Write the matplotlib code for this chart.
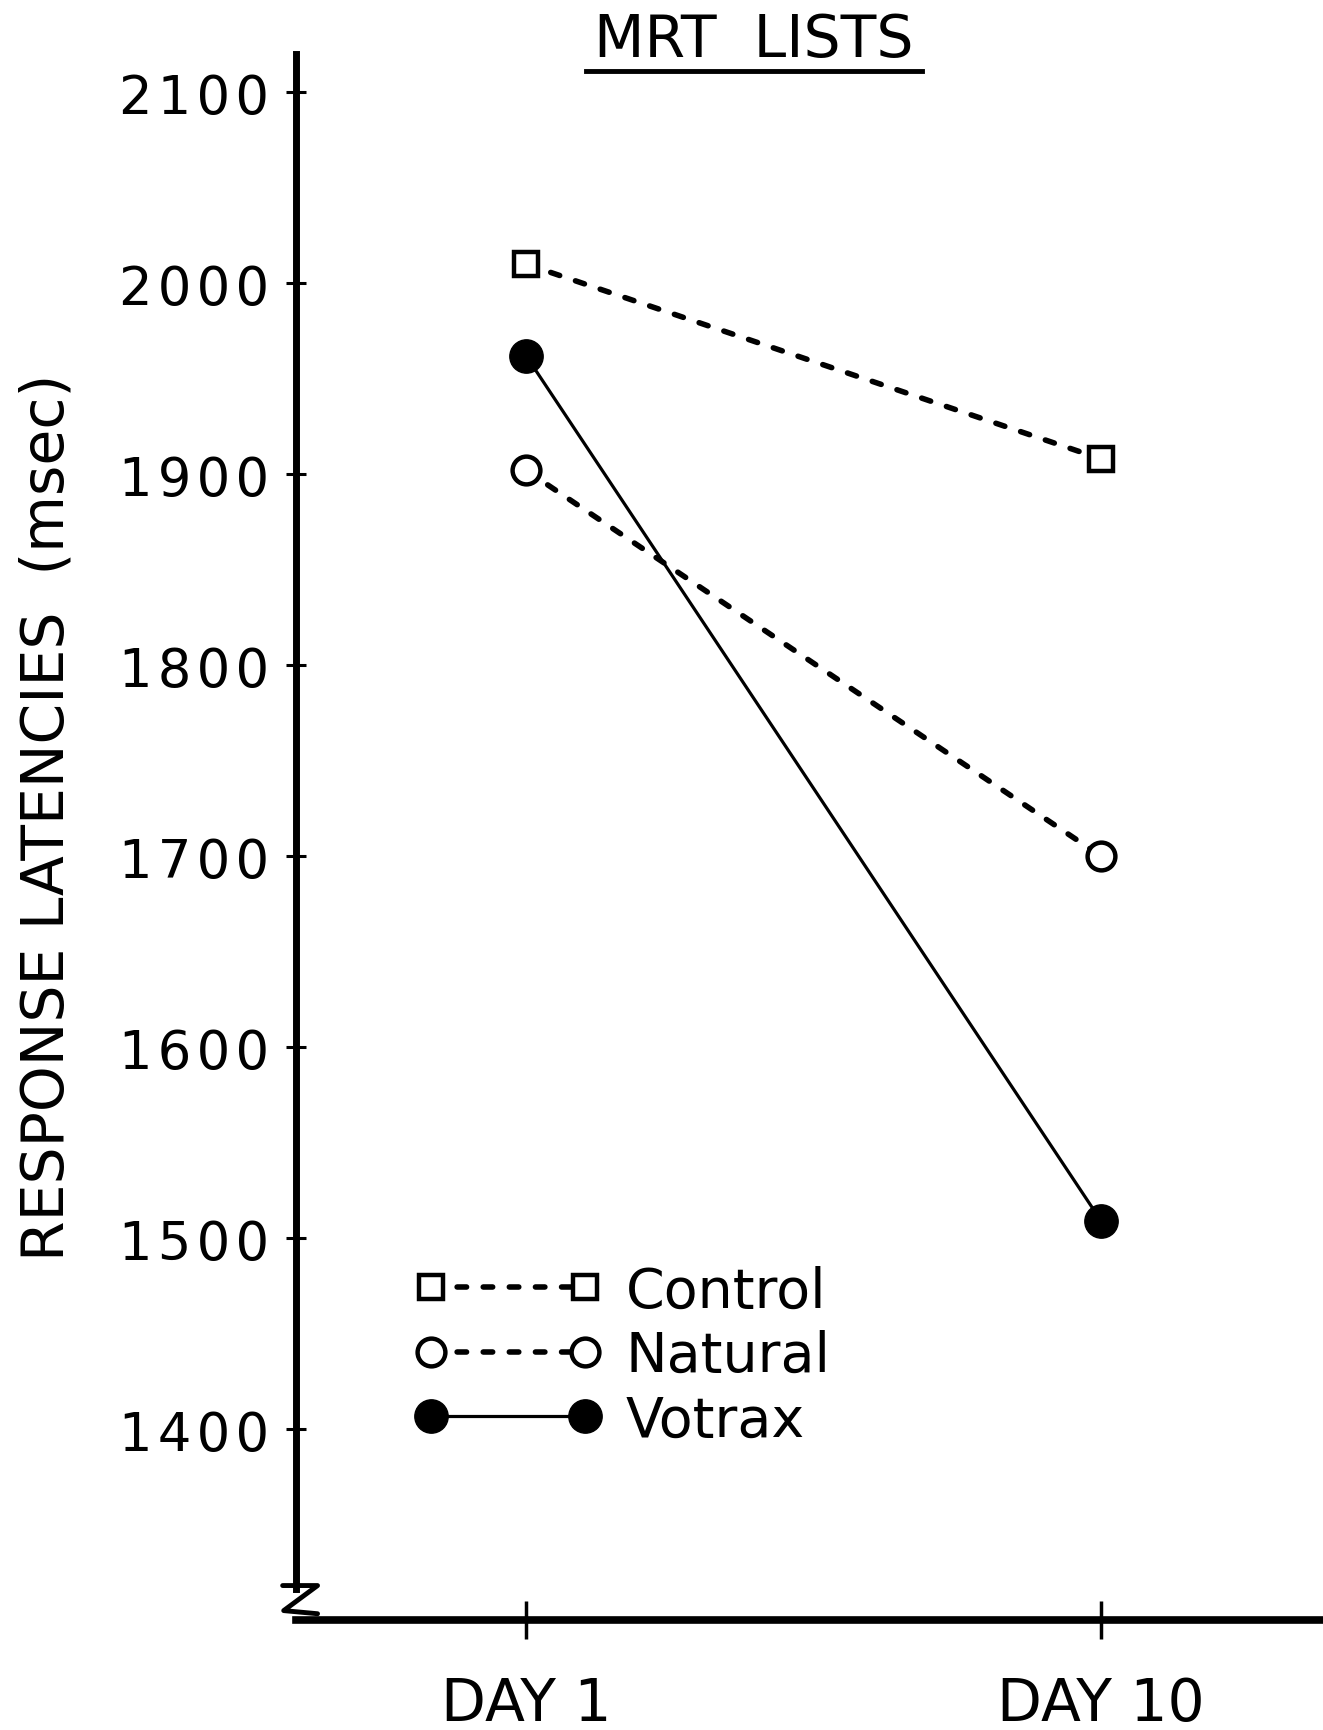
import numpy as np
import matplotlib
matplotlib.use('Agg')
import matplotlib.pyplot as plt
from matplotlib.lines import Line2D
from matplotlib.ticker import FuncFormatter

# values
days = ['DAY 1', 'DAY 10']
control = [2010, 1908]
natural = [1902, 1700]
votrax = [1962, 1509]
yticks = [1400, 1500, 1600, 1700, 1800, 1900, 2000, 2100]

plt.rcParams['font.family'] = ['DejaVu Sans']

W, H = 1323, 1731
fig = plt.figure(figsize=(W / 100, H / 100), dpi=100)
ax = fig.add_axes([296 / W, 1 - 1621 / H, 1 - 296 / W, 1566 / H])

x = np.arange(len(days))
dash = (0, (1.7, 3.0))

ax.plot(x, control, color='black', lw=4, linestyle=dash, dash_capstyle='round',
        marker='s', ms=17, mfc='white', mec='black', mew=3.2, label='Control', clip_on=False)
ax.plot(x, natural, color='black', lw=4, linestyle=dash, dash_capstyle='round',
        marker='o', ms=20, mfc='white', mec='black', mew=3.2, label='Natural', clip_on=False)
ax.plot(x, votrax, color='black', lw=2.3, linestyle='-',
        marker='o', ms=24, mfc='black', mec='black', mew=1, label='Votrax', clip_on=False)

ax.set_xlim(-0.4, 1.386)
ax.set_ylim(1300, 2120)

ax.set_xticks(x)
ax.set_xticklabels(days)
ax.set_yticks(yticks)
ax.yaxis.set_major_formatter(FuncFormatter(lambda v, p: '\u200a'.join(str(int(v)))))

for s in ['top', 'right']:
    ax.spines[s].set_visible(False)
ax.spines['left'].set_linewidth(5)
ax.spines['bottom'].set_linewidth(5.5)
ax.spines['left'].set_bounds(1316, 2120)

ax.tick_params(axis='y', direction='inout', length=15, width=2.2, labelsize=38, pad=12)
ax.tick_params(axis='x', direction='inout', length=27, width=2.5, labelsize=42, pad=26)

# axis break mark
ax.plot([-0.013, 0.021, -0.012, 0.021], [0.022, 0.022, 0.006, 0.004],
        transform=ax.transAxes, color='black', lw=3.5, clip_on=False,
        solid_joinstyle='round', solid_capstyle='round')

leg = ax.legend(loc='upper left', bbox_to_anchor=(0.115, 0.227), numpoints=2,
                frameon=False, fontsize=40, handlelength=3.38, handletextpad=0.43,
                labelspacing=0.19, borderpad=0, borderaxespad=0)

fig.text(47 / W, 1 - 817 / H, 'RESPONSE LATENCIES  (msec)', rotation=90,
         ha='center', va='center', fontsize=42)

t = fig.text(754 / W, 1 - 40 / H, 'MRT  LISTS', ha='center', va='center', fontsize=42)
fig.canvas.draw()
bb = t.get_window_extent().transformed(fig.transFigure.inverted())
fig.add_artist(Line2D([bb.x0 - 0.006, bb.x1 + 0.006], [1 - 72 / H] * 2,
                      color='black', lw=3.5, transform=fig.transFigure))

fig.savefig('out.png', dpi=100)
